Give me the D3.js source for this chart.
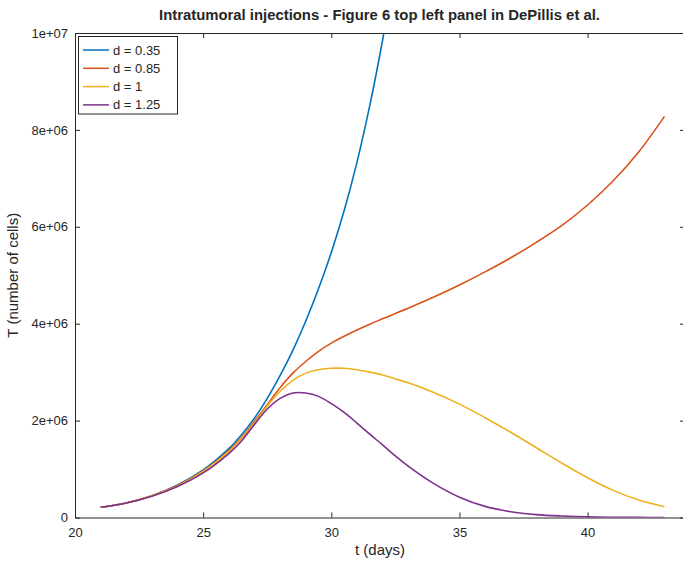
<!DOCTYPE html>
<html>
<head>
<meta charset="utf-8">
<script src="https://d3js.org/d3.v7.min.js"></script>
<style>
  body { margin: 0; background: #fff; }
  text { font-family: "Liberation Sans Narrow", "Liberation Sans", Arial, sans-serif; fill: #262626; }
</style>
</head>
<body>
<div id="chart"></div>
<script>
// time points (days)
const days = [21, 22, 23, 24, 25, 26, 26.5, 27, 27.5, 28, 28.5, 29, 29.5, 30, 30.5,
              31, 31.5, 32, 32.5, 33, 34, 35, 36, 37, 38, 39, 40, 41, 42, 43];

// tumour cells, in millions
const d035 = [0.21, 0.30, 0.45, 0.67, 0.98, 1.42, 1.71, 2.05, 2.46, 2.93, 3.45, 4.05, 4.72, 5.47, 6.33,
              7.33, 8.50, 9.85, 11.4, null, null, null, null, null, null, null, null, null, null, null];
const d085 = [0.21, 0.30, 0.45, 0.66, 0.96, 1.38, 1.65, 1.98, 2.33, 2.68, 2.98, 3.22, 3.43, 3.60, 3.74,
              3.87, 3.99, 4.10, 4.21, 4.32, 4.55, 4.80, 5.07, 5.36, 5.68, 6.03, 6.45, 6.95, 7.55, 8.28];
const d1   = [0.21, 0.30, 0.45, 0.65, 0.95, 1.36, 1.63, 1.95, 2.30, 2.60, 2.83, 2.98, 3.05, 3.08, 3.08,
              3.05, 3.00, 2.94, 2.86, 2.78, 2.58, 2.34, 2.06, 1.76, 1.44, 1.12, 0.82, 0.56, 0.36, 0.22];
const d125 = [0.21, 0.30, 0.44, 0.64, 0.92, 1.32, 1.58, 1.92, 2.24, 2.46, 2.57, 2.57, 2.50, 2.35, 2.17,
              1.95, 1.72, 1.50, 1.27, 1.06, 0.70, 0.42, 0.23, 0.12, 0.06, 0.03, 0.012, 0.005, 0.002, 0.001];

const seriesNames = ["d = 0.35", "d = 0.85", "d = 1", "d = 1.25"];
const colors = ["#0072BD", "#D95319", "#EDB120", "#7E2F8E"];

const xTicks = [20, 25, 30, 35, 40];
const yTicks = [0, 2e6, 4e6, 6e6, 8e6, 1e7];
const yTickLabels = ["0", "2e+06", "4e+06", "6e+06", "8e+06", "1e+07"];

const w = 683, h = 561;
const mLeft = 75, mTop = 33, mRight = 685, mBottom = 517.5;

const svg = d3.select("#chart").append("svg")
  .attr("width", w).attr("height", h);

const x = d3.scaleLinear().domain([20, 43.8]).range([mLeft, mRight]);
const y = d3.scaleLinear().domain([0, 1e7]).range([mBottom, mTop]);

svg.append("defs").append("clipPath").attr("id", "plotclip")
  .append("rect").attr("x", mLeft).attr("y", mTop)
  .attr("width", mRight - mLeft).attr("height", mBottom - mTop);

// axes on all four sides, ticks pointing inward
const axisColor = "#262626";
const gx = svg.append("g").attr("transform", "translate(0," + mBottom + ")")
  .call(d3.axisBottom(x).tickValues(xTicks).tickSizeInner(-5).tickSizeOuter(0).tickPadding(10));
const gxTop = svg.append("g").attr("transform", "translate(0," + mTop + ")")
  .call(d3.axisTop(x).tickValues(xTicks).tickSizeInner(-5).tickSizeOuter(0).tickFormat(""));
const gy = svg.append("g").attr("transform", "translate(" + mLeft + ",0)")
  .call(d3.axisLeft(y).tickValues(yTicks).tickSizeInner(-5).tickSizeOuter(0).tickPadding(7)
    .tickFormat((d, i) => yTickLabels[i]));
const gyR = svg.append("g").attr("transform", "translate(" + mRight + ",0)")
  .call(d3.axisRight(y).tickValues(yTicks).tickSizeInner(-5).tickSizeOuter(0).tickFormat(""));

[gx, gxTop, gy, gyR].forEach(g => {
  g.selectAll("path.domain").attr("stroke", axisColor).attr("stroke-width", 1);
  g.selectAll("line").attr("stroke", axisColor).attr("stroke-width", 1);
  g.selectAll("text").attr("font-size", 13).attr("fill", axisColor)
    .style("font-family", '"Liberation Sans Narrow", "Liberation Sans", Arial, sans-serif');
});

// lines
const plot = svg.append("g").attr("clip-path", "url(#plotclip)");
[d035, d085, d1, d125].forEach((vals, k) => {
  const pts = days.map((t, i) => [t, vals[i]]);
  const line = d3.line()
    .defined(d => d[1] !== null)
    .x(d => x(d[0]))
    .y(d => y(d[1] * 1e6))
    .curve(d3.curveCatmullRom.alpha(0.5));
  plot.append("path").datum(pts)
    .attr("fill", "none")
    .attr("stroke", colors[k])
    .attr("stroke-width", 1.6)
    .attr("d", line);
});

// title and axis labels
svg.append("text")
  .attr("x", 379.5).attr("y", 20)
  .attr("text-anchor", "middle")
  .attr("font-size", 14).attr("font-weight", "bold")
  .attr("textLength", 441).attr("lengthAdjust", "spacingAndGlyphs")
  .text("Intratumoral injections - Figure 6 top left panel in DePillis et al.");

svg.append("text")
  .attr("x", (mLeft + mRight) / 2).attr("y", 555)
  .attr("text-anchor", "middle").attr("font-size", 15)
  .text("t (days)");

svg.append("text")
  .attr("transform", "translate(18," + ((mTop + mBottom) / 2) + ") rotate(-90)")
  .attr("text-anchor", "middle").attr("font-size", 15)
  .text("T (number of cells)");

// legend
const lg = svg.append("g");
lg.append("rect")
  .attr("x", 78.5).attr("y", 36.5).attr("width", 99).attr("height", 77.5)
  .attr("fill", "#fff").attr("stroke", axisColor).attr("stroke-width", 1);
seriesNames.forEach((name, k) => {
  const yy = 50 + k * 18.3;
  lg.append("line")
    .attr("x1", 83).attr("x2", 109).attr("y1", yy).attr("y2", yy)
    .attr("stroke", colors[k]).attr("stroke-width", 1.5);
  lg.append("text")
    .attr("x", 113).attr("y", yy + 4.5)
    .attr("font-size", 13)
    .text(name);
});
</script>
</body>
</html>
